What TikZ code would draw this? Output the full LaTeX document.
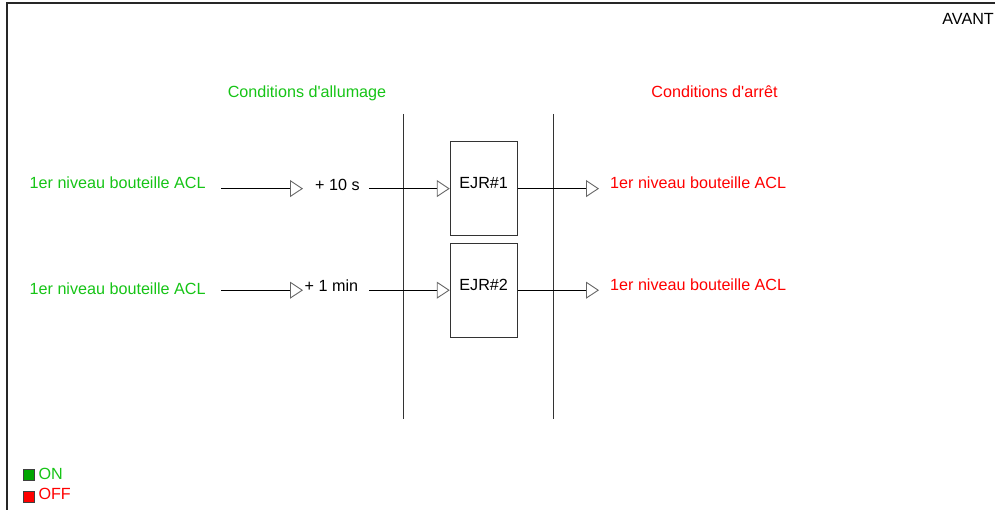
\documentclass[tikz,border=0pt]{standalone}
\usepackage{fontspec}
\setmainfont{Liberation Sans}
\usetikzlibrary{arrows.meta}
\definecolor{ongreen}{RGB}{22,196,22}
\definecolor{onfill}{RGB}{0,165,0}
\definecolor{offred}{RGB}{255,0,0}
\tikzset{
  txt/.style={inner sep=0pt, font=\fontsize{16.15}{19}\selectfont},
  lbl/.style={txt, anchor=base west},
  arr/.style={line width=0.9pt, black, -{Triangle[open,length=13pt,width=17pt,line width=0.9pt,color=black!60]}},
  ejr/.style={draw=black!80, line width=0.9pt, minimum width=67pt, minimum height=94pt, inner sep=0pt},
  divider/.style={line width=1pt, black!80},
  sq/.style={draw=black!75, line width=0.8pt, minimum size=11pt, inner sep=0pt}
}
\begin{document}
\begin{tikzpicture}[x=1pt,y=-1pt]
\useasboundingbox (0,0) rectangle (995,510);
\draw[line width=1.3pt, black!85] (7,510) -- (7,3) -- (995,3);

\node[txt, anchor=base east] (avant) at (994,25) {AVANT};
\node[txt, text=ongreen, anchor=base] (t1) at (307,98) {Conditions d\textquotesingle allumage};
\node[txt, text=offred, anchor=base] (t2) at (714.5,98) {Conditions d\textquotesingle arrêt};

\draw[divider] (403,114) -- (403,419);
\draw[divider] (553.3,114) -- (553.3,419);

\coordinate (r1) at (0,188.6);
\coordinate (r2) at (0,290.2);

% left labels
\node[lbl, text=ongreen] (l1) at (29.5,188.3) {1er niveau bouteille ACL};
\node[lbl, text=ongreen] (l2) at (29.5,295) {1er niveau bouteille ACL};
% delays
\node[lbl] (d1) at (315,190.5) {+ 10 s};
\node[lbl] (d2) at (304.5,291.7) {+ 1 min};
% boxes
\node[ejr, label={[txt, yshift=5.5pt]center:EJR\#1}] (b1) at (483.7,188.3) {};
\node[ejr, label={[txt, yshift=5.5pt]center:EJR\#2}] (b2) at (483.7,290) {};
% right labels
\node[lbl, text=offred] (o1) at (610,189) {1er niveau bouteille ACL};
\node[lbl, text=offred] (o2) at (610,290.7) {1er niveau bouteille ACL};

% connectors
\draw[arr] ([xshift=15.5pt]l1.east |- r1) -- ([xshift=-12pt]d1.west |- r1);
\draw[arr] ([xshift=9pt]d1.east |- r1) -- (b1.west |- r1);
\draw[arr] (b1.east |- r1) -- ([xshift=-11pt]o1.west |- r1);

\draw[arr] ([xshift=15.5pt]l2.east |- r2) -- ([xshift=-1.5pt]d2.west |- r2);
\draw[arr] ([xshift=11pt]d2.east |- r2) -- (b2.west |- r2);
\draw[arr] (b2.east |- r2) -- ([xshift=-11pt]o2.west |- r2);

% legend
\node[sq, fill=onfill] (onsq) at (28.8,474.5) {};
\node[lbl, text=ongreen] (on) at (38.3,479.3) {ON};
\node[sq, fill=offred] (offsq) at (28.8,496.5) {};
\node[lbl, text=offred] (off) at (38.3,499.3) {OFF};
\end{tikzpicture}
\end{document}
